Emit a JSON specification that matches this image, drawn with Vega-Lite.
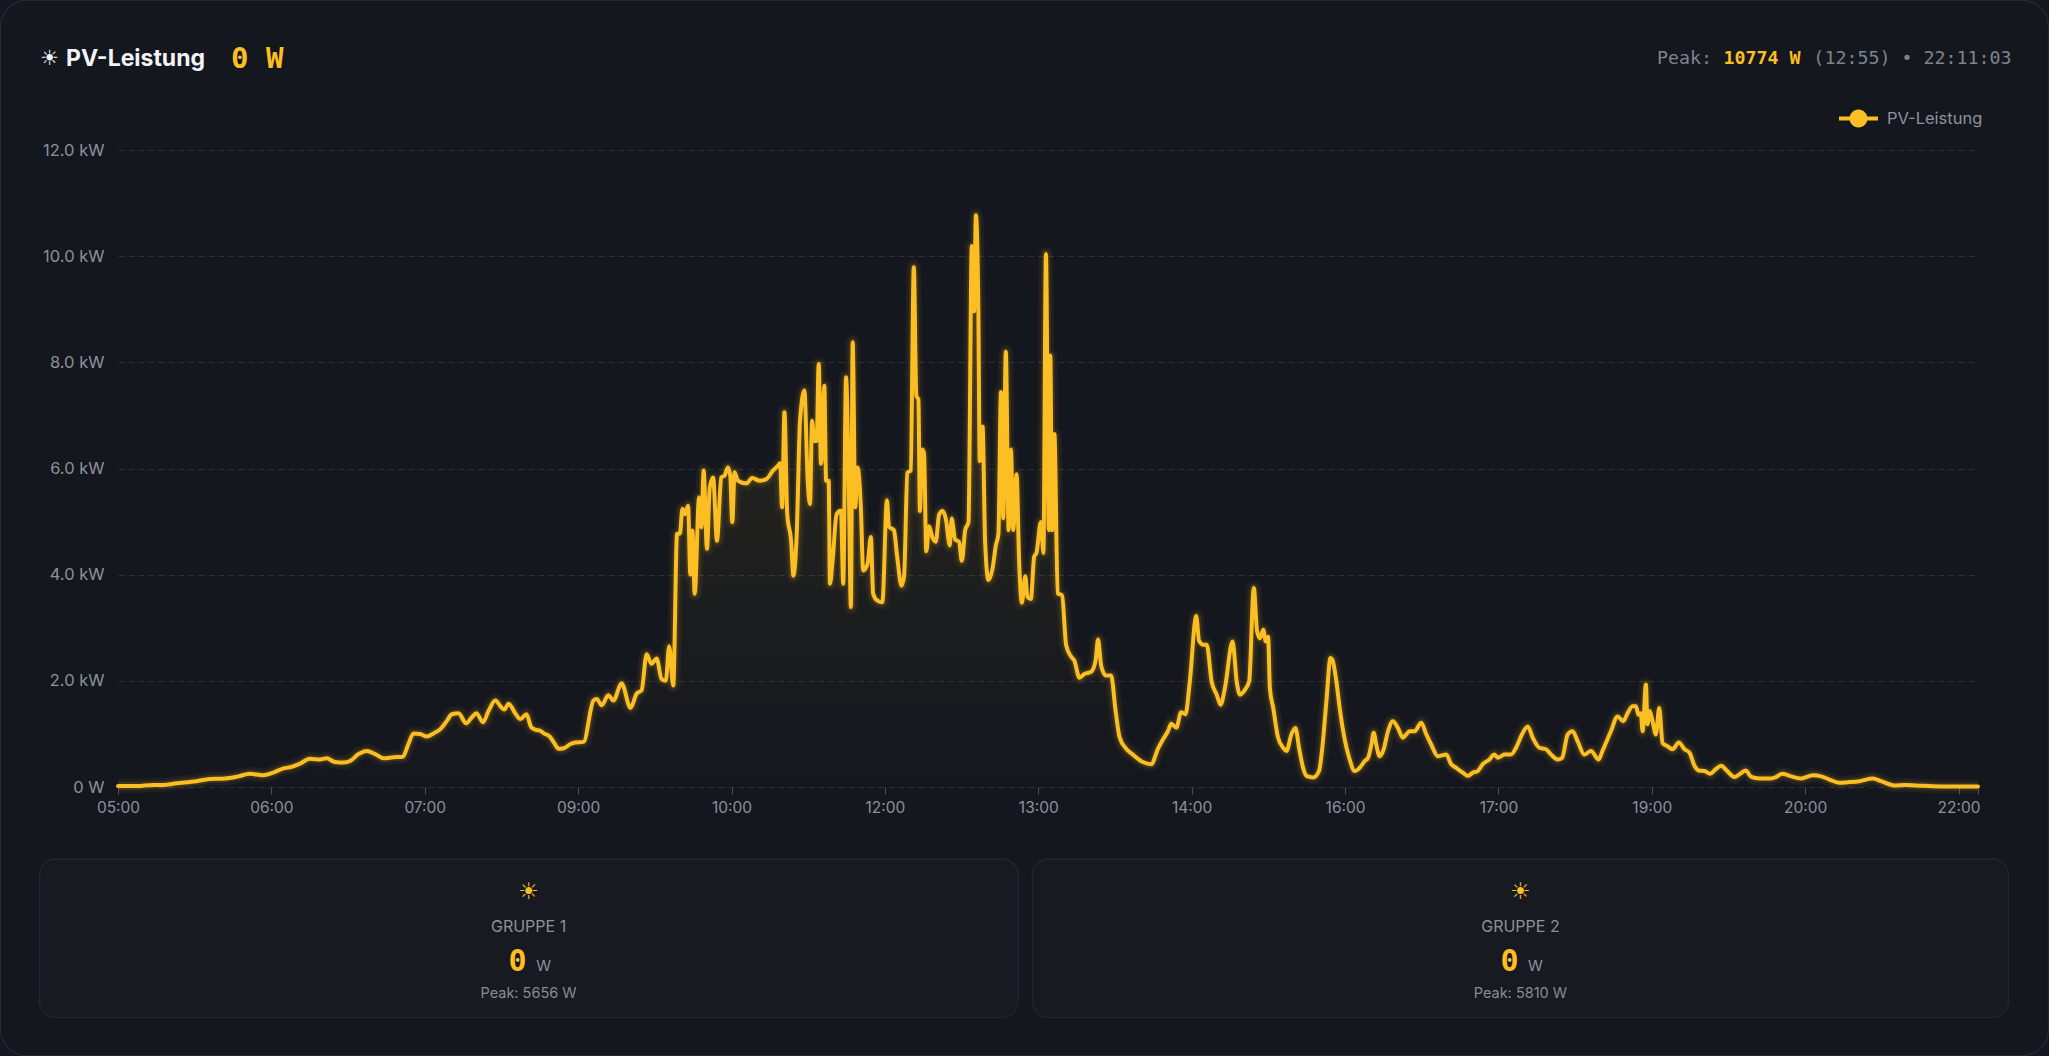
{
  "$schema": "https://vega.github.io/schema/vega-lite/v6.json",
  "width": 1860,
  "height": 637,
  "autosize": {"type": "none"},
  "padding": {"left": 118, "top": 150, "right": 71, "bottom": 269},
  "background": "#14171e",
  "config": {"view": {"stroke": null}, "font": "Inter"},
  "datasets": {
    "pv": [
      {"pos": 0, "kw": 0.02}, {"pos": 7.2, "kw": 0.02}, {"pos": 13.7, "kw": 0.04}, {"pos": 17.6, "kw": 0.04}, {"pos": 22.9, "kw": 0.07},
      {"pos": 30.7, "kw": 0.11}, {"pos": 35.9, "kw": 0.15}, {"pos": 41.8, "kw": 0.16}, {"pos": 47, "kw": 0.2}, {"pos": 51.6, "kw": 0.25},
      {"pos": 56.8, "kw": 0.22}, {"pos": 60.7, "kw": 0.27}, {"pos": 64.7, "kw": 0.35}, {"pos": 67.9, "kw": 0.38}, {"pos": 71.2, "kw": 0.44},
      {"pos": 75.1, "kw": 0.53}, {"pos": 79, "kw": 0.52}, {"pos": 81.6, "kw": 0.54}, {"pos": 84.9, "kw": 0.47}, {"pos": 88.2, "kw": 0.46},
      {"pos": 90.8, "kw": 0.49}, {"pos": 94.1, "kw": 0.62}, {"pos": 97.3, "kw": 0.68}, {"pos": 100.6, "kw": 0.62}, {"pos": 103.9, "kw": 0.54},
      {"pos": 107.8, "kw": 0.56}, {"pos": 111.4, "kw": 0.57}, {"pos": 113.6, "kw": 0.81}, {"pos": 115.6, "kw": 1.01}, {"pos": 118.2, "kw": 1.0},
      {"pos": 120.8, "kw": 0.95}, {"pos": 123.4, "kw": 1.01}, {"pos": 126.1, "kw": 1.09}, {"pos": 128.7, "kw": 1.25}, {"pos": 130.6, "kw": 1.37},
      {"pos": 133.2, "kw": 1.39}, {"pos": 136.2, "kw": 1.2}, {"pos": 138.5, "kw": 1.32}, {"pos": 140.2, "kw": 1.39}, {"pos": 142.8, "kw": 1.22},
      {"pos": 145, "kw": 1.44}, {"pos": 147.6, "kw": 1.63}, {"pos": 149.8, "kw": 1.51}, {"pos": 151.1, "kw": 1.46}, {"pos": 152.8, "kw": 1.57},
      {"pos": 155.5, "kw": 1.38}, {"pos": 157.4, "kw": 1.28}, {"pos": 159.8, "kw": 1.37}, {"pos": 161.6, "kw": 1.13}, {"pos": 163.3, "kw": 1.08},
      {"pos": 165.2, "kw": 1.06}, {"pos": 166.6, "kw": 1.01}, {"pos": 168.9, "kw": 0.95}, {"pos": 170.5, "kw": 0.84}, {"pos": 172.4, "kw": 0.72},
      {"pos": 174.4, "kw": 0.73}, {"pos": 177, "kw": 0.81}, {"pos": 179, "kw": 0.84}, {"pos": 182.1, "kw": 0.85}, {"pos": 186, "kw": 1.63},
      {"pos": 187.3, "kw": 1.66}, {"pos": 189.2, "kw": 1.54}, {"pos": 191.8, "kw": 1.73}, {"pos": 193.8, "kw": 1.63}, {"pos": 197, "kw": 1.95},
      {"pos": 200.5, "kw": 1.49}, {"pos": 202.9, "kw": 1.76}, {"pos": 204.8, "kw": 1.82}, {"pos": 206.8, "kw": 2.5}, {"pos": 208.7, "kw": 2.32},
      {"pos": 210.7, "kw": 2.42}, {"pos": 212.6, "kw": 2.04}, {"pos": 214.3, "kw": 2.0}, {"pos": 215.6, "kw": 2.65}, {"pos": 217.2, "kw": 1.91},
      {"pos": 218.7, "kw": 4.77}, {"pos": 219.8, "kw": 4.77}, {"pos": 220.8, "kw": 5.24}, {"pos": 221.7, "kw": 5.14}, {"pos": 223, "kw": 5.3},
      {"pos": 223.9, "kw": 4.0}, {"pos": 224.7, "kw": 4.83}, {"pos": 225.6, "kw": 3.64}, {"pos": 227.3, "kw": 5.46}, {"pos": 228.2, "kw": 4.89},
      {"pos": 229.1, "kw": 5.96}, {"pos": 230.4, "kw": 4.49}, {"pos": 231.5, "kw": 5.65}, {"pos": 232.8, "kw": 5.83}, {"pos": 234.3, "kw": 4.64},
      {"pos": 236, "kw": 5.83}, {"pos": 237.3, "kw": 5.87}, {"pos": 238.6, "kw": 6.02}, {"pos": 239.5, "kw": 5.87}, {"pos": 240.3, "kw": 4.99},
      {"pos": 241.2, "kw": 5.93}, {"pos": 242.5, "kw": 5.77}, {"pos": 245.8, "kw": 5.72}, {"pos": 248.1, "kw": 5.82}, {"pos": 251, "kw": 5.77},
      {"pos": 253.6, "kw": 5.8}, {"pos": 256.2, "kw": 5.96}, {"pos": 258.1, "kw": 6.05}, {"pos": 259, "kw": 6.1}, {"pos": 259.8, "kw": 5.27},
      {"pos": 260.7, "kw": 7.06}, {"pos": 261.8, "kw": 5.14}, {"pos": 263.3, "kw": 4.64}, {"pos": 264.2, "kw": 3.98}, {"pos": 265.5, "kw": 4.77},
      {"pos": 266.8, "kw": 6.9}, {"pos": 268.5, "kw": 7.47}, {"pos": 269.8, "kw": 5.77}, {"pos": 270.7, "kw": 5.33}, {"pos": 271.5, "kw": 6.9},
      {"pos": 272.4, "kw": 6.52}, {"pos": 273.3, "kw": 6.52}, {"pos": 274.1, "kw": 7.97}, {"pos": 275, "kw": 6.09}, {"pos": 276.3, "kw": 7.56},
      {"pos": 277, "kw": 5.77}, {"pos": 278, "kw": 5.77}, {"pos": 278.5, "kw": 3.83}, {"pos": 279.6, "kw": 4.3}, {"pos": 281.1, "kw": 5.14},
      {"pos": 282.8, "kw": 5.21}, {"pos": 283.7, "kw": 3.83}, {"pos": 284.8, "kw": 7.72}, {"pos": 285.8, "kw": 5.9}, {"pos": 286.7, "kw": 3.39},
      {"pos": 287.4, "kw": 8.38}, {"pos": 288.4, "kw": 5.27}, {"pos": 289.3, "kw": 6.02}, {"pos": 290.6, "kw": 5.27}, {"pos": 291.5, "kw": 4.08},
      {"pos": 293.2, "kw": 4.2}, {"pos": 294.5, "kw": 4.71}, {"pos": 295.4, "kw": 3.64}, {"pos": 297.1, "kw": 3.51}, {"pos": 299, "kw": 3.48},
      {"pos": 300.8, "kw": 5.4}, {"pos": 301.6, "kw": 4.9}, {"pos": 303.5, "kw": 4.84}, {"pos": 304.8, "kw": 4.34}, {"pos": 306.5, "kw": 3.79},
      {"pos": 307.5, "kw": 3.97}, {"pos": 308.8, "kw": 5.92}, {"pos": 310.1, "kw": 5.96}, {"pos": 311.3, "kw": 9.79}, {"pos": 312.3, "kw": 7.37},
      {"pos": 313.1, "kw": 7.3}, {"pos": 313.7, "kw": 5.2}, {"pos": 314.6, "kw": 6.36}, {"pos": 315.3, "kw": 6.29}, {"pos": 316.2, "kw": 4.44},
      {"pos": 317.3, "kw": 4.91}, {"pos": 318.6, "kw": 4.7}, {"pos": 319.9, "kw": 4.62}, {"pos": 321.2, "kw": 5.13}, {"pos": 322.5, "kw": 5.2},
      {"pos": 323.8, "kw": 5.06}, {"pos": 325.4, "kw": 4.55}, {"pos": 326.1, "kw": 5.06}, {"pos": 327.5, "kw": 4.66}, {"pos": 329, "kw": 4.62},
      {"pos": 330.1, "kw": 4.26}, {"pos": 331.4, "kw": 4.84}, {"pos": 332.7, "kw": 4.99}, {"pos": 334, "kw": 10.19}, {"pos": 334.9, "kw": 8.96},
      {"pos": 335.6, "kw": 10.77}, {"pos": 336.5, "kw": 9.25}, {"pos": 337.1, "kw": 6.14}, {"pos": 338.2, "kw": 6.79}, {"pos": 339.2, "kw": 4.62},
      {"pos": 340.5, "kw": 3.9}, {"pos": 342.1, "kw": 4.12}, {"pos": 343.4, "kw": 4.55}, {"pos": 344.4, "kw": 4.77}, {"pos": 345.4, "kw": 7.44},
      {"pos": 346.3, "kw": 5.06}, {"pos": 347.3, "kw": 8.2}, {"pos": 348.4, "kw": 4.84}, {"pos": 349.3, "kw": 6.36}, {"pos": 350.2, "kw": 4.84},
      {"pos": 351.5, "kw": 5.89}, {"pos": 352.5, "kw": 4.26}, {"pos": 353.6, "kw": 3.47}, {"pos": 354.9, "kw": 3.97}, {"pos": 355.8, "kw": 3.58},
      {"pos": 357.1, "kw": 3.54}, {"pos": 358.4, "kw": 4.34}, {"pos": 359.3, "kw": 4.41}, {"pos": 361, "kw": 4.99}, {"pos": 362, "kw": 4.41},
      {"pos": 363, "kw": 10.04}, {"pos": 364.1, "kw": 4.84}, {"pos": 364.7, "kw": 8.13}, {"pos": 365.4, "kw": 4.84}, {"pos": 366.3, "kw": 6.65},
      {"pos": 367.6, "kw": 3.65}, {"pos": 369.3, "kw": 3.61}, {"pos": 370.9, "kw": 2.67}, {"pos": 372.8, "kw": 2.46}, {"pos": 374.1, "kw": 2.38},
      {"pos": 376.1, "kw": 2.06}, {"pos": 378, "kw": 2.13}, {"pos": 380.7, "kw": 2.17}, {"pos": 382.4, "kw": 2.38}, {"pos": 383.4, "kw": 2.78},
      {"pos": 384.6, "kw": 2.28}, {"pos": 386.5, "kw": 2.1}, {"pos": 388.5, "kw": 2.1}, {"pos": 390.2, "kw": 1.45}, {"pos": 391.8, "kw": 0.94},
      {"pos": 394.4, "kw": 0.72}, {"pos": 397, "kw": 0.61}, {"pos": 400.9, "kw": 0.47}, {"pos": 404.2, "kw": 0.43}, {"pos": 406.8, "kw": 0.72},
      {"pos": 408.8, "kw": 0.9}, {"pos": 410.7, "kw": 1.05}, {"pos": 412, "kw": 1.19}, {"pos": 414, "kw": 1.12}, {"pos": 415.9, "kw": 1.41},
      {"pos": 417.6, "kw": 1.37}, {"pos": 419.2, "kw": 1.95}, {"pos": 421.8, "kw": 3.22}, {"pos": 422.9, "kw": 2.75}, {"pos": 424.6, "kw": 2.68},
      {"pos": 425.9, "kw": 2.68}, {"pos": 427.8, "kw": 1.99}, {"pos": 429.8, "kw": 1.74}, {"pos": 431.3, "kw": 1.55}, {"pos": 433, "kw": 1.86},
      {"pos": 436, "kw": 2.74}, {"pos": 437.6, "kw": 1.99}, {"pos": 438.9, "kw": 1.74}, {"pos": 440.8, "kw": 1.83}, {"pos": 442.5, "kw": 1.99},
      {"pos": 444.3, "kw": 3.75}, {"pos": 445.6, "kw": 2.93}, {"pos": 446.7, "kw": 2.8}, {"pos": 448, "kw": 2.96}, {"pos": 449, "kw": 2.74},
      {"pos": 449.9, "kw": 2.83}, {"pos": 450.6, "kw": 1.86}, {"pos": 451.9, "kw": 1.49}, {"pos": 453.8, "kw": 0.93}, {"pos": 455.8, "kw": 0.74},
      {"pos": 457.1, "kw": 0.68}, {"pos": 459, "kw": 0.99}, {"pos": 460.6, "kw": 1.11}, {"pos": 462, "kw": 0.74}, {"pos": 463.6, "kw": 0.36},
      {"pos": 464.9, "kw": 0.21}, {"pos": 467.5, "kw": 0.18}, {"pos": 469.8, "kw": 0.3}, {"pos": 471.1, "kw": 0.74}, {"pos": 472.7, "kw": 1.61},
      {"pos": 474.3, "kw": 2.43}, {"pos": 475.1, "kw": 2.39}, {"pos": 476.6, "kw": 1.99}, {"pos": 477.9, "kw": 1.49}, {"pos": 479.5, "kw": 0.99},
      {"pos": 481.8, "kw": 0.52}, {"pos": 483.8, "kw": 0.3}, {"pos": 485.7, "kw": 0.36}, {"pos": 487.7, "kw": 0.49}, {"pos": 489, "kw": 0.55},
      {"pos": 490.3, "kw": 0.8}, {"pos": 491.2, "kw": 1.02}, {"pos": 492.2, "kw": 0.8}, {"pos": 493.5, "kw": 0.58}, {"pos": 495.1, "kw": 0.71},
      {"pos": 496.8, "kw": 1.05}, {"pos": 498.7, "kw": 1.24}, {"pos": 500.7, "kw": 1.11}, {"pos": 502.6, "kw": 0.93}, {"pos": 503.9, "kw": 0.99},
      {"pos": 505.2, "kw": 1.05}, {"pos": 507.2, "kw": 1.05}, {"pos": 509.8, "kw": 1.21}, {"pos": 511.8, "kw": 0.99}, {"pos": 513.7, "kw": 0.8},
      {"pos": 516.3, "kw": 0.58}, {"pos": 519.6, "kw": 0.61}, {"pos": 521.5, "kw": 0.43}, {"pos": 523.5, "kw": 0.36}, {"pos": 526.1, "kw": 0.27},
      {"pos": 528, "kw": 0.21}, {"pos": 530, "kw": 0.27}, {"pos": 531.9, "kw": 0.3}, {"pos": 533.9, "kw": 0.43}, {"pos": 536.5, "kw": 0.52},
      {"pos": 538.4, "kw": 0.61}, {"pos": 539.7, "kw": 0.55}, {"pos": 541, "kw": 0.58}, {"pos": 542.3, "kw": 0.61}, {"pos": 544.9, "kw": 0.61},
      {"pos": 546.9, "kw": 0.74}, {"pos": 549.2, "kw": 0.99}, {"pos": 551.5, "kw": 1.14}, {"pos": 553.4, "kw": 0.93}, {"pos": 556, "kw": 0.74},
      {"pos": 558.6, "kw": 0.71}, {"pos": 560.6, "kw": 0.61}, {"pos": 563.2, "kw": 0.52}, {"pos": 564.9, "kw": 0.55}, {"pos": 567.1, "kw": 0.99},
      {"pos": 569, "kw": 1.05}, {"pos": 571, "kw": 0.86}, {"pos": 573.6, "kw": 0.61}, {"pos": 576.2, "kw": 0.68}, {"pos": 579.2, "kw": 0.52},
      {"pos": 580.7, "kw": 0.68}, {"pos": 584, "kw": 1.05}, {"pos": 586.6, "kw": 1.33}, {"pos": 588.8, "kw": 1.24}, {"pos": 590.5, "kw": 1.39},
      {"pos": 592.5, "kw": 1.52}, {"pos": 593.8, "kw": 1.52}, {"pos": 594.8, "kw": 1.36}, {"pos": 595.7, "kw": 1.39}, {"pos": 596.4, "kw": 1.05},
      {"pos": 597.7, "kw": 1.93}, {"pos": 598.3, "kw": 1.18}, {"pos": 599.2, "kw": 1.43}, {"pos": 600.3, "kw": 1.24}, {"pos": 601.6, "kw": 0.99},
      {"pos": 602.9, "kw": 1.49}, {"pos": 604.2, "kw": 0.83}, {"pos": 606.1, "kw": 0.77}, {"pos": 608.1, "kw": 0.71}, {"pos": 610.6, "kw": 0.84},
      {"pos": 612.8, "kw": 0.71}, {"pos": 614.7, "kw": 0.65}, {"pos": 616.7, "kw": 0.4}, {"pos": 618.4, "kw": 0.31}, {"pos": 620.6, "kw": 0.3},
      {"pos": 622.8, "kw": 0.25}, {"pos": 624.9, "kw": 0.33}, {"pos": 627.1, "kw": 0.4}, {"pos": 629.3, "kw": 0.31}, {"pos": 632.3, "kw": 0.19},
      {"pos": 634.3, "kw": 0.24}, {"pos": 636.7, "kw": 0.31}, {"pos": 638.9, "kw": 0.19}, {"pos": 642.1, "kw": 0.16}, {"pos": 646.7, "kw": 0.16},
      {"pos": 648.7, "kw": 0.19}, {"pos": 651, "kw": 0.25}, {"pos": 653.9, "kw": 0.21}, {"pos": 658.4, "kw": 0.16}, {"pos": 663, "kw": 0.22},
      {"pos": 666.3, "kw": 0.2}, {"pos": 669.5, "kw": 0.14}, {"pos": 673.2, "kw": 0.08}, {"pos": 676.7, "kw": 0.09}, {"pos": 681.3, "kw": 0.11},
      {"pos": 686.5, "kw": 0.16}, {"pos": 689.7, "kw": 0.11}, {"pos": 695, "kw": 0.03}, {"pos": 698.9, "kw": 0.04}, {"pos": 703.4, "kw": 0.03},
      {"pos": 712.6, "kw": 0.01}, {"pos": 726.9, "kw": 0.01}, {"pos": 727.6, "kw": 0.01}
    ],
    "groups": [
      {"group": "GRUPPE 1", "now": "0", "unit": "W", "peak": "Peak: 5656 W"},
      {"group": "GRUPPE 2", "now": "0", "unit": "W", "peak": "Peak: 5810 W"}
    ],
    "header": [
      {"part": "icon", "text": "☀"},
      {"part": "title", "text": "PV-Leistung"},
      {"part": "now", "text": "0 W"},
      {"part": "peakLabel", "text": "Peak:"},
      {"part": "peakValue", "text": "10774 W"},
      {"part": "peakTime", "text": "(12:55) • 22:11:03"}
    ]
  },
  "layer": [
    {
      "data": {"values": [{"card": "PV"}]},
      "mark": {"type": "rect", "cornerRadius": 26, "fill": null, "stroke": "#262a33", "strokeWidth": 1.2},
      "encoding": {
        "x": {"datum": -45.96, "type": "quantitative"},
        "x2": {"datum": 755.16},
        "y": {"datum": 14.817, "type": "quantitative"},
        "y2": {"datum": -5.058}
      }
    },
    {
      "data": {"name": "pv"},
      "encoding": {
        "x": {
          "field": "pos",
          "type": "quantitative",
          "scale": {"domain": [0, 727.6], "nice": false, "zero": false},
          "axis": {
            "values": [0, 60, 120, 180, 240, 300, 360, 420, 480, 540, 600, 660, 720, 727.6],
            "labelExpr": "datum.value > 721 ? '' : ['05:00','06:00','07:00','09:00','10:00','12:00','13:00','14:00','16:00','17:00','19:00','20:00','22:00'][round(datum.value / 60)]",
            "title": null,
            "grid": false,
            "domain": false,
            "ticks": true,
            "tickColor": "#4a505b",
            "tickSize": 7,
            "labelColor": "#8b929d",
            "labelFont": "Inter",
            "labelFontSize": 15.5,
            "labelPadding": 6,
            "labelFlush": false,
            "labelOverlap": false
          }
        },
        "y": {
          "field": "kw",
          "type": "quantitative",
          "scale": {"domain": [0, 12], "nice": false},
          "axis": {
            "values": [0, 2, 4, 6, 8, 10, 12],
            "labelExpr": "datum.value == 0 ? '0 W' : format(datum.value, '.1f') + ' kW'",
            "title": null,
            "grid": true,
            "gridColor": "#2b3039",
            "gridDash": [6, 4],
            "gridWidth": 1.2,
            "domain": false,
            "ticks": false,
            "labelColor": "#8b929d",
            "labelFont": "Inter",
            "labelFontSize": 16.5,
            "labelPadding": 14
          }
        }
      },
      "layer": [
        {
          "mark": {
            "type": "area",
            "interpolate": "monotone",
            "color": {
              "gradient": "linear",
              "x1": 0, "y1": 1, "x2": 0, "y2": 0,
              "stops": [
                {"offset": 0, "color": "rgba(251,191,36,0.0)"},
                {"offset": 1, "color": "rgba(251,191,36,0.11)"}
              ]
            }
          }
        },
        {"mark": {"type": "line", "interpolate": "monotone", "stroke": "#fbbf24", "strokeWidth": 14, "opacity": 0.06, "strokeJoin": "round"}},
        {"mark": {"type": "line", "interpolate": "monotone", "stroke": "#fbbf24", "strokeWidth": 8, "opacity": 0.12, "strokeJoin": "round"}},
        {
          "mark": {"type": "line", "interpolate": "monotone", "strokeWidth": 4, "strokeJoin": "round", "strokeCap": "round"},
          "encoding": {
            "color": {
              "datum": "PV-Leistung",
              "type": "nominal",
              "scale": {"range": ["#fbbf24"]},
              "legend": {
                "title": null,
                "orient": "none",
                "legendX": 1721,
                "legendY": -51,
                "padding": 0,
                "symbolType": "M-1,-0.1L1,-0.1L1,0.1L-1,0.1Z M0.46,0A0.46,0.46,0,1,1,-0.46,0A0.46,0.46,0,1,1,0.46,0Z",
                "symbolSize": 1521,
                "labelColor": "#8b929d",
                "labelFont": "Inter",
                "labelFontSize": 16.5,
                "labelOffset": 9,
                "encode": {"symbols": {"update": {"fill": {"value": "#fbbf24"}, "stroke": {"value": "#fbbf24"}, "strokeWidth": {"value": 0}}}}
              }
            }
          }
        }
      ]
    },
    {
      "data": {"name": "header"},
      "encoding": {
        "y": {"datum": 13.71, "type": "quantitative"},
        "text": {"field": "text", "type": "nominal"}
      },
      "layer": [
        {
          "transform": [{"filter": "datum.part == 'icon'"}],
          "mark": {"type": "text", "align": "center", "baseline": "middle", "font": "DejaVu Sans", "fontSize": 21, "fill": "#f3f4f6"},
          "encoding": {"x": {"datum": -26.8, "type": "quantitative"}}
        },
        {
          "transform": [{"filter": "datum.part == 'title'"}],
          "mark": {"type": "text", "align": "left", "baseline": "middle", "font": "Inter", "fontSize": 23, "fontWeight": "bold", "fill": "#f3f4f6"},
          "encoding": {"x": {"datum": -20.3, "type": "quantitative"}}
        },
        {
          "transform": [{"filter": "datum.part == 'now'"}],
          "mark": {"type": "text", "align": "left", "baseline": "middle", "font": "DejaVu Sans Mono", "fontSize": 29, "fontWeight": "bold", "fill": "#fbbf24"},
          "encoding": {"x": {"datum": 44.2, "type": "quantitative"}}
        },
        {
          "transform": [{"filter": "datum.part == 'peakLabel'"}],
          "mark": {"type": "text", "align": "left", "baseline": "middle", "font": "DejaVu Sans Mono", "fontSize": 18.3, "fill": "#7d848f"},
          "encoding": {"x": {"datum": 602, "type": "quantitative"}}
        },
        {
          "transform": [{"filter": "datum.part == 'peakValue'"}],
          "mark": {"type": "text", "align": "left", "baseline": "middle", "font": "DejaVu Sans Mono", "fontSize": 18.3, "fontWeight": "bold", "fill": "#fbbf24"},
          "encoding": {"x": {"datum": 628, "type": "quantitative"}}
        },
        {
          "transform": [{"filter": "datum.part == 'peakTime'"}],
          "mark": {"type": "text", "align": "left", "baseline": "middle", "font": "DejaVu Sans Mono", "fontSize": 18.3, "fill": "#7d848f"},
          "encoding": {"x": {"datum": 663.2, "type": "quantitative"}}
        }
      ]
    },
    {
      "data": {"name": "groups"},
      "transform": [{"filter": "datum.group == 'GRUPPE 1'"}],
      "encoding": {"x": {"datum": 160.6, "type": "quantitative"}},
      "layer": [
        {
          "mark": {"type": "rect", "cornerRadius": 16, "fill": "#171a21", "stroke": "#23272f", "strokeWidth": 1.3},
          "encoding": {"x": {"datum": -30.7, "type": "quantitative"}, "x2": {"datum": 352.1}, "y": {"datum": -1.356, "type": "quantitative"}, "y2": {"datum": -4.338}}
        },
        {
          "mark": {"type": "text", "align": "center", "baseline": "middle", "font": "DejaVu Sans", "fontSize": 23, "fill": "#fbbf24"},
          "encoding": {"y": {"datum": -1.984, "type": "quantitative"}, "text": {"value": "☀"}}
        },
        {
          "mark": {"type": "text", "align": "center", "baseline": "middle", "font": "Inter", "fontSize": 16, "fill": "#8b929d"},
          "encoding": {"y": {"datum": -2.632, "type": "quantitative"}, "text": {"field": "group", "type": "nominal"}}
        },
        {
          "mark": {"type": "text", "align": "center", "baseline": "alphabetic", "font": "DejaVu Sans Mono", "fontSize": 30, "fontWeight": "bold", "fill": "#fbbf24", "dx": -11},
          "encoding": {"y": {"datum": -3.463, "type": "quantitative"}, "text": {"field": "now", "type": "nominal"}}
        },
        {
          "mark": {"type": "text", "align": "center", "baseline": "alphabetic", "font": "Inter", "fontSize": 15, "fill": "#8b929d", "dx": 15},
          "encoding": {"y": {"datum": -3.463, "type": "quantitative"}, "text": {"field": "unit", "type": "nominal"}}
        },
        {
          "mark": {"type": "text", "align": "center", "baseline": "middle", "font": "Inter", "fontSize": 14.5, "fill": "#858c97"},
          "encoding": {"y": {"datum": -3.905, "type": "quantitative"}, "text": {"field": "peak", "type": "nominal"}}
        }
      ]
    },
    {
      "data": {"name": "groups"},
      "transform": [{"filter": "datum.group == 'GRUPPE 2'"}],
      "encoding": {"x": {"datum": 548.6, "type": "quantitative"}},
      "layer": [
        {
          "mark": {"type": "rect", "cornerRadius": 16, "fill": "#171a21", "stroke": "#23272f", "strokeWidth": 1.3},
          "encoding": {"x": {"datum": 357.7, "type": "quantitative"}, "x2": {"datum": 739.5}, "y": {"datum": -1.356, "type": "quantitative"}, "y2": {"datum": -4.338}}
        },
        {
          "mark": {"type": "text", "align": "center", "baseline": "middle", "font": "DejaVu Sans", "fontSize": 23, "fill": "#fbbf24"},
          "encoding": {"y": {"datum": -1.984, "type": "quantitative"}, "text": {"value": "☀"}}
        },
        {
          "mark": {"type": "text", "align": "center", "baseline": "middle", "font": "Inter", "fontSize": 16, "fill": "#8b929d"},
          "encoding": {"y": {"datum": -2.632, "type": "quantitative"}, "text": {"field": "group", "type": "nominal"}}
        },
        {
          "mark": {"type": "text", "align": "center", "baseline": "alphabetic", "font": "DejaVu Sans Mono", "fontSize": 30, "fontWeight": "bold", "fill": "#fbbf24", "dx": -11},
          "encoding": {"y": {"datum": -3.463, "type": "quantitative"}, "text": {"field": "now", "type": "nominal"}}
        },
        {
          "mark": {"type": "text", "align": "center", "baseline": "alphabetic", "font": "Inter", "fontSize": 15, "fill": "#8b929d", "dx": 15},
          "encoding": {"y": {"datum": -3.463, "type": "quantitative"}, "text": {"field": "unit", "type": "nominal"}}
        },
        {
          "mark": {"type": "text", "align": "center", "baseline": "middle", "font": "Inter", "fontSize": 14.5, "fill": "#858c97"},
          "encoding": {"y": {"datum": -3.905, "type": "quantitative"}, "text": {"field": "peak", "type": "nominal"}}
        }
      ]
    }
  ]
}
